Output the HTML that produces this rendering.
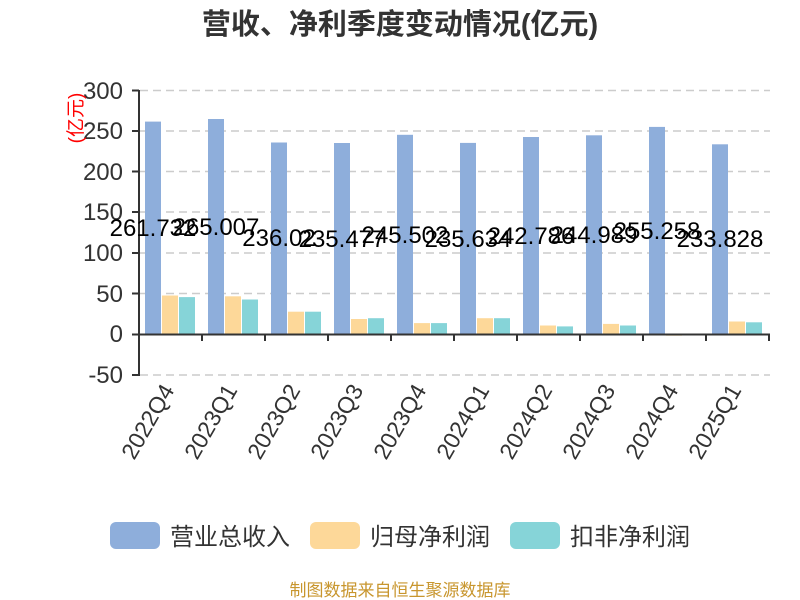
<!DOCTYPE html>
<html><head><meta charset="utf-8"><style>body{margin:0;background:#fff}svg{display:block}</style></head><body>
<svg width="800" height="600" xmlns="http://www.w3.org/2000/svg" font-family="'Liberation Sans','Noto Sans CJK SC',sans-serif">
<text x="400" y="34" text-anchor="middle" font-size="29" font-weight="bold" fill="#333">营收、净利季度变动情况(亿元)</text>
<g stroke="#ccc" stroke-dasharray="8,5" stroke-width="1.5">
<line x1="140" x2="770" y1="90.5" y2="90.5"/><line x1="140" x2="770" y1="131" y2="131"/><line x1="140" x2="770" y1="171.5" y2="171.5"/><line x1="140" x2="770" y1="212" y2="212"/><line x1="140" x2="770" y1="253" y2="253"/><line x1="140" x2="770" y1="293.5" y2="293.5"/><line x1="140" x2="770" y1="375" y2="375"/>
</g>
<g font-size="24" fill="#333" text-anchor="end">
<text x="123" y="99">300</text><text x="123" y="139">250</text><text x="123" y="180">200</text><text x="123" y="220">150</text><text x="123" y="261">100</text><text x="123" y="302">50</text><text x="123" y="342">0</text><text x="123" y="383">-50</text>
</g>
<text transform="translate(82,118) rotate(-90)" text-anchor="middle" font-size="19" fill="red">(亿元)</text>
<g fill="#8eaedb">
<rect x="145" y="121.6" width="16" height="212.9"/><rect x="208" y="119" width="16" height="215.5"/><rect x="271" y="142.5" width="16" height="192"/><rect x="334" y="143" width="16" height="191.5"/><rect x="397" y="134.8" width="16" height="199.7"/><rect x="460" y="142.9" width="16" height="191.6"/><rect x="523" y="137" width="16" height="197.5"/><rect x="586" y="135.3" width="16" height="199.2"/><rect x="649" y="126.9" width="16" height="207.6"/><rect x="712" y="144.3" width="16" height="190.2"/>
</g>
<g fill="#fdd899">
<rect x="162" y="295.5" width="16" height="39"/><rect x="225" y="296.3" width="16" height="38.2"/><rect x="288" y="311.7" width="16" height="22.8"/><rect x="351" y="319" width="16" height="15.5"/><rect x="414" y="323.1" width="16" height="11.4"/><rect x="477" y="318.2" width="16" height="16.3"/><rect x="540" y="325.5" width="16" height="9"/><rect x="603" y="323.9" width="16" height="10.6"/><rect x="666" y="334.5" width="16" height="1.2"/><rect x="729" y="321.5" width="16" height="13"/>
</g>
<g fill="#86d4d8">
<rect x="179" y="297.1" width="16" height="37.4"/><rect x="242" y="299.5" width="16" height="35"/><rect x="305" y="311.7" width="16" height="22.8"/><rect x="368" y="318.2" width="16" height="16.3"/><rect x="431" y="323.1" width="16" height="11.4"/><rect x="494" y="318.2" width="16" height="16.3"/><rect x="557" y="326.4" width="16" height="8.1"/><rect x="620" y="325.5" width="16" height="9"/><rect x="683" y="333.7" width="16" height="0.8"/><rect x="746" y="322.3" width="16" height="12.2"/>
</g>
<g stroke="#333" stroke-width="2">
<line x1="139" y1="90" x2="139" y2="376"/><line x1="132" y1="90.5" x2="139" y2="90.5"/><line x1="132" y1="131" x2="139" y2="131"/><line x1="132" y1="171.5" x2="139" y2="171.5"/><line x1="132" y1="212" x2="139" y2="212"/><line x1="132" y1="253" x2="139" y2="253"/><line x1="132" y1="293.5" x2="139" y2="293.5"/><line x1="132" y1="334.5" x2="139" y2="334.5"/><line x1="132" y1="375" x2="139" y2="375"/>
<line x1="139" y1="334.5" x2="770" y2="334.5"/>
<line x1="202" y1="334" x2="202" y2="341"/><line x1="265" y1="334" x2="265" y2="341"/><line x1="328" y1="334" x2="328" y2="341"/><line x1="391" y1="334" x2="391" y2="341"/><line x1="454" y1="334" x2="454" y2="341"/><line x1="517" y1="334" x2="517" y2="341"/><line x1="580" y1="334" x2="580" y2="341"/><line x1="643" y1="334" x2="643" y2="341"/><line x1="706" y1="334" x2="706" y2="341"/><line x1="769" y1="334" x2="769" y2="341"/>
</g>
<g font-size="24" fill="#000" text-anchor="middle">
<text x="153" y="236">261.732</text><text x="216" y="235">265.007</text><text x="279" y="246">236.02</text><text x="342" y="247">235.477</text><text x="405" y="243">245.502</text><text x="468" y="247">235.634</text><text x="531" y="244">242.786</text><text x="594" y="243">244.989</text><text x="657" y="239">255.258</text><text x="720" y="247">233.828</text>
</g>
<g font-size="23" fill="#333" text-anchor="end">
<text transform="translate(175,390) rotate(-60)">2022Q4</text><text transform="translate(238,390) rotate(-60)">2023Q1</text><text transform="translate(301,390) rotate(-60)">2023Q2</text><text transform="translate(364,390) rotate(-60)">2023Q3</text><text transform="translate(427,390) rotate(-60)">2023Q4</text><text transform="translate(490,390) rotate(-60)">2024Q1</text><text transform="translate(553,390) rotate(-60)">2024Q2</text><text transform="translate(616,390) rotate(-60)">2024Q3</text><text transform="translate(679,390) rotate(-60)">2024Q4</text><text transform="translate(742,390) rotate(-60)">2025Q1</text>
</g>
<rect x="110" y="522" width="50" height="27" rx="6" fill="#8eaedb"/><text x="170" y="545" font-size="24" fill="#333">营业总收入</text>
<rect x="310" y="522" width="50" height="27" rx="6" fill="#fdd899"/><text x="370" y="545" font-size="24" fill="#333">归母净利润</text>
<rect x="510" y="522" width="50" height="27" rx="6" fill="#86d4d8"/><text x="570" y="545" font-size="24" fill="#333">扣非净利润</text>
<text x="400" y="596" text-anchor="middle" font-size="17" fill="#c8962e">制图数据来自恒生聚源数据库</text>
</svg>
</body></html>
